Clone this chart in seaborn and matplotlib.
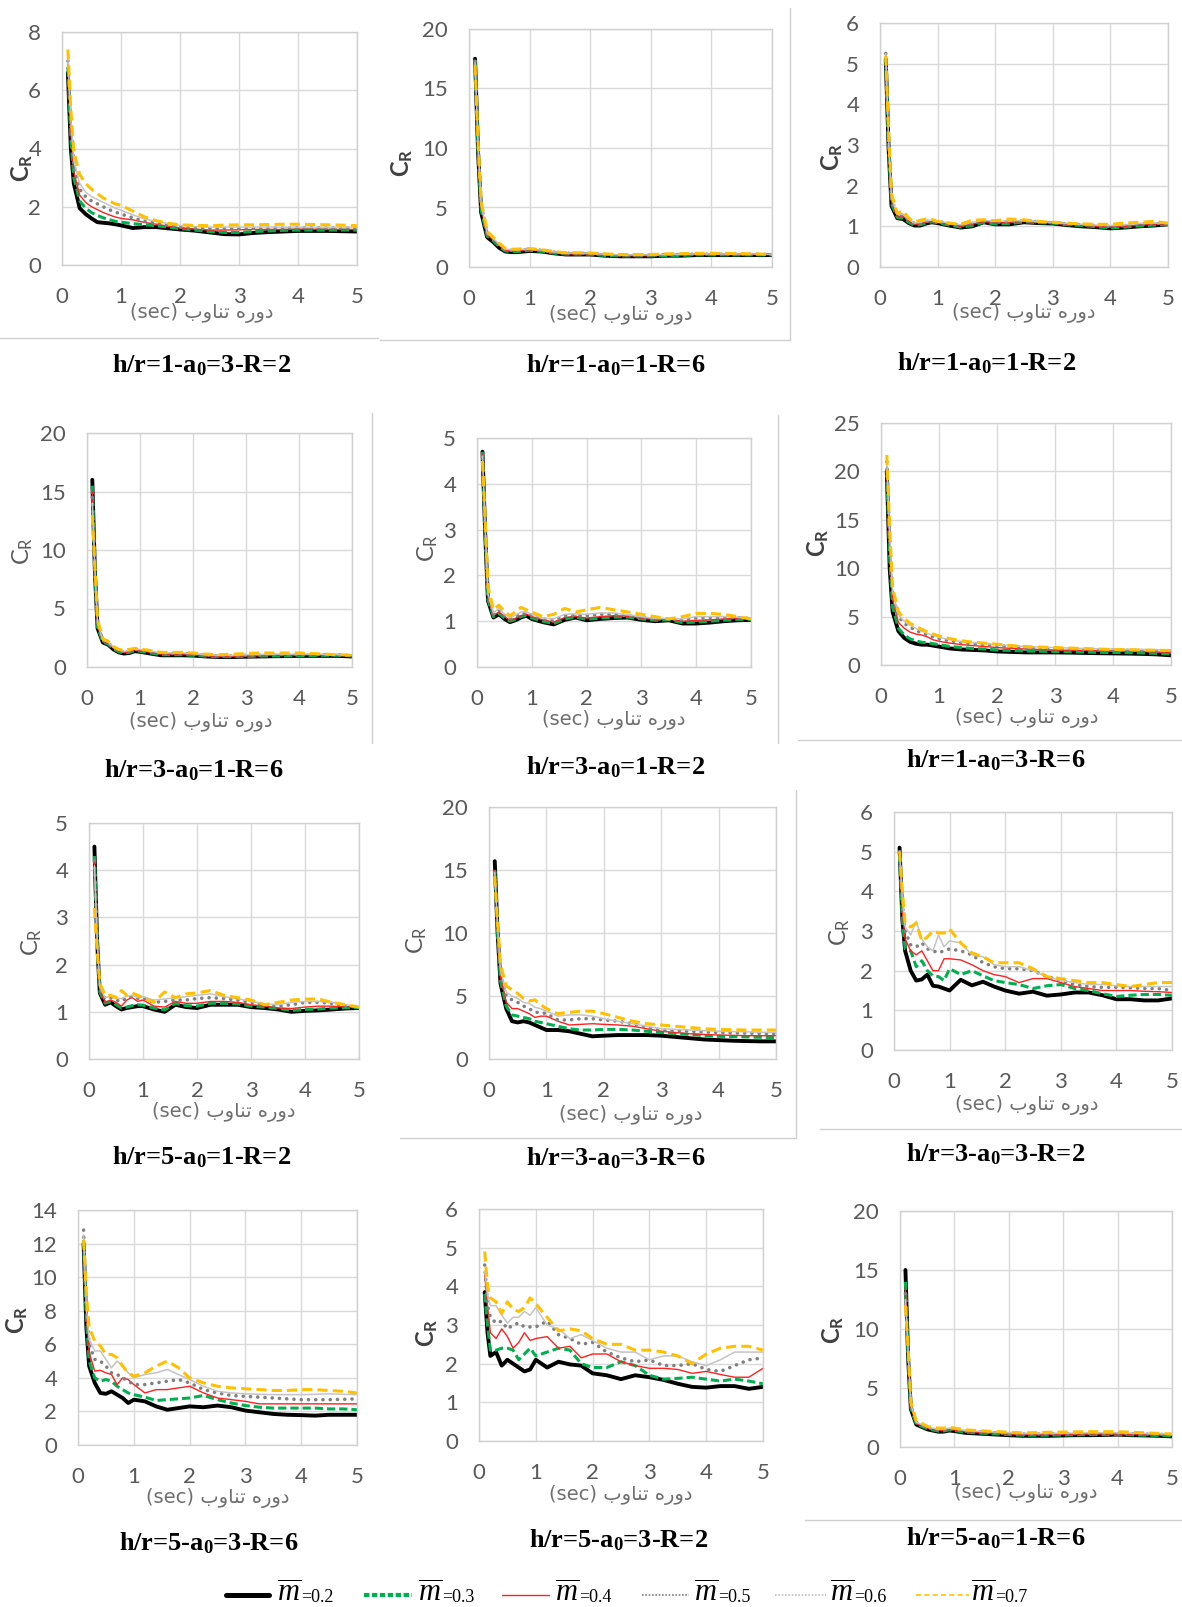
import numpy as np
import matplotlib
matplotlib.use("Agg")
import matplotlib.pyplot as plt
from matplotlib.lines import Line2D
import seaborn as sns

# ---------------- data ----------------
T = [0.1, 0.15, 0.2, 0.3, 0.4, 0.5, 0.6, 0.7, 0.8, 0.9, 1.0, 1.2, 1.4, 1.6, 1.8, 2.0,
     2.25, 2.5, 2.75, 3.0, 3.25, 3.5, 3.75, 4.0, 4.25, 4.5, 4.75, 5.0]
M_VALUES = ["0.2", "0.3", "0.4", "0.5", "0.6", "0.7"]
X_TICKS = [0, 1, 2, 3, 4, 5]

TITLES = ["h/r=1-$a_0$=3-R=2", "h/r=1-$a_0$=1-R=6", "h/r=1-$a_0$=1-R=2",
          "h/r=3-$a_0$=1-R=6", "h/r=3-$a_0$=1-R=2", "h/r=1-$a_0$=3-R=6",
          "h/r=5-$a_0$=1-R=2", "h/r=3-$a_0$=3-R=6", "h/r=3-$a_0$=3-R=2",
          "h/r=5-$a_0$=3-R=6", "h/r=5-$a_0$=3-R=2", "h/r=5-$a_0$=1-R=6"]
Y_MAX = [8, 20, 6, 20, 5, 25, 5, 20, 6, 14, 6, 20]
Y_STEP = [2, 5, 1, 5, 1, 5, 1, 5, 1, 2, 1, 5]

P1_CR = [
    [6.6, 4.0, 2.8, 1.95, 1.75, 1.6, 1.47, 1.45, 1.43, 1.4, 1.36, 1.27, 1.3, 1.3, 1.26, 1.22, 1.18, 1.12, 1.06, 1.05, 1.1, 1.13, 1.15, 1.17, 1.17, 1.17, 1.16, 1.15],
    [6.8, 4.3, 3.0, 2.2, 1.95, 1.8, 1.7, 1.62, 1.56, 1.5, 1.47, 1.42, 1.38, 1.35, 1.3, 1.25, 1.2, 1.15, 1.12, 1.12, 1.15, 1.17, 1.19, 1.2, 1.2, 1.2, 1.2, 1.2],
    [6.9, 4.6, 3.2, 2.4, 2.15, 2.0, 1.9, 1.8, 1.72, 1.65, 1.6, 1.55, 1.46, 1.4, 1.33, 1.27, 1.23, 1.2, 1.2, 1.21, 1.22, 1.22, 1.22, 1.23, 1.23, 1.22, 1.22, 1.22],
    [7.0, 4.8, 3.4, 2.6, 2.35, 2.2, 2.1, 2.0, 1.9, 1.82, 1.75, 1.62, 1.5, 1.43, 1.37, 1.3, 1.27, 1.25, 1.25, 1.26, 1.26, 1.27, 1.27, 1.28, 1.28, 1.27, 1.27, 1.27],
    [7.1, 5.0, 3.6, 2.8, 2.5, 2.35, 2.25, 2.15, 2.05, 1.95, 1.88, 1.72, 1.58, 1.5, 1.42, 1.36, 1.32, 1.3, 1.3, 1.3, 1.3, 1.3, 1.3, 1.3, 1.3, 1.3, 1.3, 1.3],
    [7.4, 5.3, 3.9, 3.1, 2.8, 2.6, 2.45, 2.3, 2.2, 2.1, 2.05, 1.85, 1.65, 1.52, 1.43, 1.38, 1.36, 1.35, 1.37, 1.38, 1.38, 1.39, 1.4, 1.4, 1.39, 1.38, 1.37, 1.35],
]
P2_CR = [
    [17.5, 9.6, 4.6, 2.5, 2.1, 1.6, 1.3, 1.25, 1.25, 1.3, 1.35, 1.3, 1.15, 1.05, 1.05, 1.05, 0.95, 0.9, 0.9, 0.9, 0.95, 0.95, 1.0, 1.0, 1.0, 1.0, 1.0, 1.0],
    [17.4, 9.8, 4.8, 2.6, 2.2, 1.7, 1.35, 1.3, 1.3, 1.35, 1.4, 1.32, 1.17, 1.08, 1.08, 1.07, 0.97, 0.92, 0.92, 0.93, 0.97, 0.98, 1.02, 1.02, 1.02, 1.02, 1.02, 1.02],
    [17.3, 10.0, 5.0, 2.7, 2.3, 1.8, 1.4, 1.35, 1.35, 1.4, 1.45, 1.35, 1.2, 1.1, 1.1, 1.1, 1.0, 0.95, 0.95, 0.95, 1.0, 1.0, 1.05, 1.05, 1.05, 1.05, 1.05, 1.02],
    [17.3, 10.2, 5.2, 2.8, 2.35, 1.85, 1.45, 1.4, 1.4, 1.45, 1.5, 1.4, 1.25, 1.15, 1.15, 1.13, 1.05, 1.0, 1.0, 1.0, 1.03, 1.05, 1.08, 1.08, 1.08, 1.08, 1.08, 1.05],
    [17.2, 10.3, 5.3, 2.85, 2.4, 1.9, 1.5, 1.45, 1.45, 1.5, 1.52, 1.42, 1.27, 1.17, 1.17, 1.15, 1.07, 1.02, 1.02, 1.02, 1.05, 1.07, 1.1, 1.1, 1.1, 1.1, 1.1, 1.07],
    [17.0, 10.5, 5.5, 3.0, 2.5, 2.0, 1.55, 1.5, 1.5, 1.55, 1.55, 1.45, 1.3, 1.2, 1.2, 1.18, 1.1, 1.05, 1.05, 1.05, 1.1, 1.12, 1.15, 1.15, 1.15, 1.12, 1.1, 1.05],
]
P3_CR = [
    [5.1, 2.9, 1.5, 1.2, 1.18, 1.08, 1.02, 1.02, 1.07, 1.1, 1.08, 1.02, 0.97, 1.0, 1.1, 1.05, 1.05, 1.1, 1.08, 1.07, 1.03, 1.0, 0.98, 0.95, 0.97, 1.0, 1.02, 1.05],
    [5.15, 2.95, 1.55, 1.22, 1.2, 1.1, 1.03, 1.04, 1.08, 1.11, 1.09, 1.03, 0.98, 1.02, 1.1, 1.06, 1.07, 1.11, 1.09, 1.08, 1.04, 1.02, 0.99, 0.96, 0.98, 1.01, 1.03, 1.05],
    [5.2, 3.0, 1.6, 1.25, 1.25, 1.13, 1.05, 1.06, 1.1, 1.12, 1.1, 1.05, 1.0, 1.05, 1.12, 1.08, 1.1, 1.12, 1.1, 1.08, 1.05, 1.03, 1.0, 0.98, 1.0, 1.03, 1.05, 1.06],
    [5.25, 3.05, 1.65, 1.28, 1.28, 1.15, 1.07, 1.08, 1.12, 1.14, 1.12, 1.07, 1.02, 1.08, 1.14, 1.1, 1.12, 1.13, 1.11, 1.09, 1.06, 1.04, 1.02, 1.0, 1.02, 1.05, 1.07, 1.07],
    [5.25, 3.1, 1.7, 1.3, 1.3, 1.17, 1.08, 1.1, 1.14, 1.15, 1.13, 1.08, 1.04, 1.1, 1.15, 1.12, 1.14, 1.14, 1.12, 1.1, 1.07, 1.05, 1.03, 1.02, 1.04, 1.07, 1.08, 1.08],
    [5.2, 3.3, 1.8, 1.32, 1.38, 1.2, 1.1, 1.15, 1.18, 1.17, 1.12, 1.08, 1.05, 1.15, 1.16, 1.14, 1.18, 1.16, 1.12, 1.1, 1.08, 1.06, 1.05, 1.05, 1.08, 1.1, 1.12, 1.08],
]
P4_CR = [
    [16.0, 8.0, 3.3, 2.1, 1.9, 1.5, 1.25, 1.15, 1.2, 1.35, 1.3, 1.15, 1.0, 1.0, 1.0, 0.98, 0.9, 0.85, 0.85, 0.88, 0.9, 0.92, 0.93, 0.95, 0.95, 0.95, 0.95, 0.9],
    [15.5, 8.0, 3.4, 2.15, 1.95, 1.55, 1.3, 1.2, 1.25, 1.4, 1.35, 1.2, 1.05, 1.05, 1.05, 1.0, 0.92, 0.88, 0.88, 0.9, 0.93, 0.95, 0.95, 0.97, 0.98, 1.0, 1.0, 0.95],
    [15.0, 8.1, 3.5, 2.2, 2.0, 1.6, 1.35, 1.25, 1.3, 1.45, 1.4, 1.25, 1.1, 1.1, 1.1, 1.05, 0.95, 0.9, 0.9, 0.95, 0.97, 1.0, 1.0, 1.02, 1.02, 1.02, 1.0, 0.97],
    [14.5, 8.2, 3.6, 2.25, 2.05, 1.65, 1.4, 1.3, 1.35, 1.5, 1.45, 1.3, 1.15, 1.15, 1.15, 1.1, 1.0, 0.95, 0.95, 1.0, 1.02, 1.05, 1.05, 1.05, 1.05, 1.05, 1.02, 1.0],
    [14.0, 8.3, 3.7, 2.3, 2.1, 1.7, 1.45, 1.35, 1.4, 1.55, 1.5, 1.35, 1.2, 1.2, 1.2, 1.15, 1.05, 1.0, 1.0, 1.05, 1.07, 1.1, 1.1, 1.1, 1.1, 1.08, 1.05, 1.02],
    [13.0, 8.5, 4.0, 2.4, 2.2, 1.75, 1.5, 1.45, 1.5, 1.6, 1.55, 1.4, 1.25, 1.25, 1.25, 1.2, 1.1, 1.05, 1.1, 1.15, 1.2, 1.2, 1.2, 1.2, 1.15, 1.1, 1.05, 1.0],
]
P5_CR = [
    [4.7, 2.9, 1.45, 1.08, 1.15, 1.05, 0.98, 1.02, 1.08, 1.12, 1.05, 0.98, 0.93, 1.03, 1.08, 1.02, 1.05, 1.07, 1.08, 1.03, 1.0, 1.02, 0.95, 0.95, 0.97, 1.0, 1.02, 1.03],
    [4.7, 2.95, 1.47, 1.1, 1.17, 1.07, 1.0, 1.04, 1.1, 1.13, 1.07, 1.0, 0.95, 1.05, 1.09, 1.04, 1.07, 1.09, 1.09, 1.05, 1.02, 1.03, 0.97, 0.98, 1.0, 1.02, 1.04, 1.04],
    [4.65, 3.0, 1.5, 1.12, 1.2, 1.1, 1.02, 1.06, 1.12, 1.15, 1.1, 1.03, 0.98, 1.08, 1.1, 1.07, 1.1, 1.12, 1.1, 1.07, 1.03, 1.05, 1.0, 1.02, 1.03, 1.05, 1.06, 1.05],
    [4.6, 3.0, 1.55, 1.15, 1.25, 1.13, 1.05, 1.1, 1.17, 1.18, 1.13, 1.05, 1.02, 1.12, 1.13, 1.12, 1.15, 1.15, 1.12, 1.08, 1.05, 1.05, 1.03, 1.07, 1.08, 1.08, 1.08, 1.06],
    [4.6, 3.05, 1.6, 1.18, 1.28, 1.15, 1.08, 1.13, 1.2, 1.2, 1.15, 1.07, 1.05, 1.15, 1.16, 1.15, 1.18, 1.18, 1.14, 1.1, 1.06, 1.06, 1.05, 1.1, 1.1, 1.1, 1.09, 1.07],
    [4.5, 3.2, 1.75, 1.25, 1.35, 1.22, 1.12, 1.2, 1.3, 1.25, 1.2, 1.1, 1.15, 1.28, 1.2, 1.25, 1.3, 1.25, 1.2, 1.15, 1.1, 1.05, 1.1, 1.17, 1.17, 1.15, 1.1, 1.05],
]
P6_CR = [
    [20.0, 10.0, 5.5, 3.5, 2.8, 2.4, 2.2, 2.1, 2.1, 2.0, 1.9, 1.7, 1.6, 1.55, 1.5, 1.4, 1.35, 1.3, 1.3, 1.3, 1.28, 1.25, 1.22, 1.2, 1.18, 1.15, 1.1, 1.0],
    [20.2, 11.0, 6.0, 3.8, 3.1, 2.7, 2.5, 2.35, 2.3, 2.2, 2.1, 1.9, 1.8, 1.7, 1.65, 1.55, 1.5, 1.45, 1.42, 1.4, 1.37, 1.35, 1.3, 1.3, 1.28, 1.25, 1.2, 1.15],
    [20.5, 12.0, 6.8, 4.4, 3.8, 3.4, 3.2, 3.1, 2.9, 2.6, 2.45, 2.25, 2.1, 2.0, 1.9, 1.8, 1.72, 1.65, 1.6, 1.55, 1.52, 1.5, 1.47, 1.45, 1.42, 1.4, 1.35, 1.3],
    [21.0, 13.0, 7.3, 5.0, 4.3, 3.9, 3.6, 3.3, 3.1, 2.9, 2.7, 2.5, 2.3, 2.2, 2.1, 2.0, 1.9, 1.8, 1.75, 1.7, 1.65, 1.6, 1.57, 1.55, 1.52, 1.5, 1.47, 1.45],
    [21.2, 13.5, 7.6, 5.2, 4.5, 4.1, 3.8, 3.5, 3.25, 3.05, 2.85, 2.6, 2.4, 2.3, 2.2, 2.1, 2.0, 1.9, 1.85, 1.8, 1.75, 1.7, 1.67, 1.65, 1.62, 1.6, 1.57, 1.55],
    [21.7, 14.0, 8.0, 5.5, 4.8, 4.3, 4.0, 3.7, 3.4, 3.2, 3.0, 2.7, 2.5, 2.35, 2.25, 2.15, 2.0, 1.9, 1.85, 1.8, 1.75, 1.7, 1.65, 1.6, 1.58, 1.55, 1.52, 1.5],
]
P7_CR = [
    [4.5, 2.5, 1.4, 1.15, 1.2, 1.12, 1.05, 1.08, 1.1, 1.12, 1.12, 1.05, 1.0, 1.15, 1.1, 1.08, 1.15, 1.15, 1.15, 1.1, 1.08, 1.05, 1.0, 1.02, 1.03, 1.05, 1.07, 1.08],
    [4.3, 2.5, 1.42, 1.18, 1.22, 1.15, 1.08, 1.1, 1.13, 1.15, 1.14, 1.08, 1.04, 1.18, 1.13, 1.12, 1.18, 1.18, 1.17, 1.12, 1.1, 1.07, 1.03, 1.05, 1.06, 1.08, 1.09, 1.09],
    [4.2, 2.55, 1.45, 1.2, 1.25, 1.2, 1.12, 1.25, 1.3, 1.22, 1.25, 1.12, 1.1, 1.22, 1.18, 1.18, 1.22, 1.22, 1.2, 1.15, 1.12, 1.08, 1.07, 1.1, 1.12, 1.12, 1.1, 1.1],
    [4.2, 2.6, 1.5, 1.28, 1.3, 1.25, 1.22, 1.3, 1.32, 1.28, 1.3, 1.2, 1.22, 1.25, 1.25, 1.28, 1.3, 1.28, 1.25, 1.2, 1.15, 1.12, 1.15, 1.2, 1.2, 1.18, 1.12, 1.1],
    [4.1, 2.6, 1.52, 1.3, 1.33, 1.28, 1.28, 1.33, 1.35, 1.3, 1.32, 1.25, 1.27, 1.3, 1.32, 1.35, 1.38, 1.32, 1.28, 1.22, 1.17, 1.15, 1.2, 1.22, 1.22, 1.2, 1.15, 1.1],
    [3.2, 2.3, 1.6, 1.35, 1.35, 1.3, 1.45, 1.35, 1.4, 1.35, 1.3, 1.2, 1.42, 1.3, 1.38, 1.4, 1.45, 1.35, 1.3, 1.25, 1.15, 1.2, 1.25, 1.27, 1.27, 1.2, 1.15, 1.1],
]
P8_CR = [
    [15.7, 10.0, 6.0, 4.0, 3.0, 2.9, 3.0, 2.9, 2.7, 2.5, 2.3, 2.3, 2.2, 2.0, 1.8, 1.85, 1.9, 1.9, 1.9, 1.85, 1.75, 1.65, 1.55, 1.5, 1.45, 1.42, 1.4, 1.4],
    [15.0, 10.0, 6.2, 4.2, 3.5, 3.4, 3.3, 3.2, 3.0, 2.9, 2.8, 2.6, 2.4, 2.3, 2.3, 2.35, 2.35, 2.3, 2.2, 2.1, 2.0, 1.95, 1.85, 1.8, 1.78, 1.75, 1.72, 1.7],
    [15.0, 10.2, 6.5, 4.5, 4.0, 4.0, 3.8, 3.6, 3.3, 3.4, 3.4, 3.0, 2.7, 2.75, 2.8, 2.75, 2.7, 2.6, 2.4, 2.2, 2.1, 2.0, 1.95, 1.9, 1.88, 1.85, 1.85, 1.85],
    [14.8, 10.4, 6.8, 5.0, 4.7, 4.5, 4.2, 4.0, 3.7, 3.7, 3.6, 3.1, 3.1, 3.2, 3.2, 3.1, 3.0, 2.8, 2.5, 2.3, 2.25, 2.2, 2.15, 2.1, 2.08, 2.05, 2.02, 2.0],
    [14.8, 10.5, 7.0, 5.3, 5.0, 4.8, 4.5, 4.4, 4.1, 4.0, 3.8, 3.4, 3.5, 3.5, 3.4, 3.2, 3.0, 2.8, 2.6, 2.4, 2.35, 2.3, 2.25, 2.2, 2.18, 2.15, 2.12, 2.1],
    [14.5, 10.8, 7.5, 5.8, 5.5, 5.2, 4.8, 4.6, 4.7, 4.3, 4.0, 3.6, 3.7, 3.8, 3.8, 3.6, 3.3, 3.0, 2.8, 2.7, 2.6, 2.5, 2.4, 2.35, 2.32, 2.3, 2.3, 2.3],
]
P9_CR = [
    [5.1, 3.3, 2.5, 2.0, 1.75, 1.78, 1.9, 1.62, 1.6, 1.55, 1.5, 1.77, 1.63, 1.72, 1.6, 1.5, 1.42, 1.47, 1.37, 1.4, 1.45, 1.45, 1.38, 1.28, 1.28, 1.25, 1.25, 1.3],
    [4.9, 3.3, 2.55, 2.5, 2.1, 2.25, 2.0, 1.87, 1.85, 1.75, 2.05, 1.9, 2.0, 1.87, 1.75, 1.7, 1.65, 1.55, 1.62, 1.65, 1.55, 1.5, 1.42, 1.35, 1.38, 1.4, 1.4, 1.38],
    [5.0, 3.5, 2.8, 2.5, 2.4, 2.5, 2.25, 2.0, 2.0, 2.3, 2.3, 2.27, 2.15, 2.0, 1.9, 1.85, 1.7, 1.8, 1.8, 1.7, 1.6, 1.55, 1.5, 1.5, 1.5, 1.48, 1.47, 1.45],
    [5.0, 3.7, 3.0, 2.65, 2.6, 2.7, 2.55, 2.5, 2.45, 2.5, 2.55, 2.5, 2.4, 2.2, 2.1, 2.05, 2.05, 2.0, 1.85, 1.75, 1.65, 1.6, 1.58, 1.58, 1.57, 1.55, 1.55, 1.5],
    [5.0, 3.8, 3.1, 2.9, 3.25, 2.8, 2.6, 2.5, 2.9, 2.6, 2.75, 2.7, 2.4, 2.35, 2.15, 2.1, 2.1, 2.0, 1.85, 1.75, 1.7, 1.65, 1.65, 1.62, 1.6, 1.6, 1.6, 1.6],
    [5.0, 4.0, 3.2, 3.1, 3.2, 2.75, 2.85, 3.0, 2.95, 2.95, 3.05, 2.7, 2.45, 2.35, 2.2, 2.2, 2.2, 2.05, 1.85, 1.8, 1.75, 1.7, 1.7, 1.65, 1.6, 1.65, 1.7, 1.7],
]
P10_CR = [
    [12.0, 7.0, 4.7, 3.7, 3.1, 3.05, 3.2, 3.0, 2.8, 2.5, 2.7, 2.6, 2.3, 2.1, 2.2, 2.3, 2.25, 2.35, 2.25, 2.05, 1.95, 1.85, 1.8, 1.78, 1.75, 1.8, 1.8, 1.8],
    [12.2, 7.5, 5.0, 4.0, 3.8, 3.9, 3.8, 3.5, 3.3, 3.1, 3.0, 2.85, 2.65, 2.7, 2.75, 2.8, 2.95, 2.7, 2.5, 2.35, 2.25, 2.2, 2.2, 2.2, 2.2, 2.15, 2.15, 2.1],
    [12.5, 7.8, 5.5, 4.4, 4.45, 4.3, 4.2, 3.6, 4.0, 3.9, 3.6, 3.1, 3.3, 3.3, 3.4, 3.5, 3.1, 2.8, 2.7, 2.6, 2.45, 2.45, 2.45, 2.45, 2.45, 2.45, 2.45, 2.45],
    [12.8, 8.0, 6.0, 5.1, 5.0, 4.7, 4.3, 4.2, 4.0, 3.8, 3.6, 3.6, 3.7, 3.8, 3.9, 3.7, 3.3, 3.1, 2.95, 2.9, 2.85, 2.8, 2.75, 2.7, 2.7, 2.7, 2.72, 2.75],
    [12.5, 8.2, 6.3, 5.6, 5.6, 5.1, 4.6, 5.0, 4.7, 4.3, 4.0, 4.2, 4.3, 4.5, 4.2, 3.9, 3.5, 3.2, 3.1, 3.05, 3.02, 3.0, 3.0, 3.0, 3.02, 3.05, 3.02, 3.0],
    [12.2, 9.0, 7.0, 6.2, 5.9, 5.4, 5.4, 5.2, 4.7, 4.3, 4.1, 4.3, 4.7, 5.0, 4.6, 4.0, 3.7, 3.5, 3.4, 3.35, 3.3, 3.25, 3.25, 3.3, 3.3, 3.25, 3.2, 3.1],
]
P11_CR = [
    [3.85, 2.8, 2.2, 2.3, 1.95, 2.1, 2.0, 1.9, 1.8, 1.85, 2.1, 1.9, 2.05, 1.98, 1.95, 1.75, 1.7, 1.6, 1.7, 1.65, 1.58, 1.48, 1.4, 1.38, 1.42, 1.42, 1.35, 1.4],
    [3.8, 3.0, 2.35, 2.35, 2.4, 2.4, 2.35, 2.1, 2.25, 2.4, 2.2, 2.3, 2.4, 2.35, 2.0, 1.9, 1.9, 2.05, 1.95, 1.7, 1.6, 1.62, 1.65, 1.6, 1.55, 1.6, 1.55, 1.48],
    [4.3, 3.5, 2.8, 2.65, 2.9, 2.7, 2.4, 2.55, 2.8, 2.6, 2.65, 2.7, 2.4, 2.45, 2.15, 2.25, 2.25, 2.05, 1.95, 1.88, 1.88, 1.85, 1.75, 1.8, 1.72, 1.65, 1.65, 1.88],
    [4.55, 3.5, 3.2, 3.05, 3.1, 2.9, 3.0, 3.05, 2.95, 2.95, 2.95, 3.1, 2.75, 2.65, 2.5, 2.55, 2.3, 2.15, 2.05, 2.1, 1.95, 1.95, 2.0, 1.85, 1.8, 1.95, 2.1, 2.15],
    [4.4, 3.8, 3.5, 3.5, 3.25, 3.05, 3.2, 3.2, 3.35, 3.25, 3.45, 3.0, 2.9, 2.65, 2.75, 2.6, 2.4, 2.3, 2.3, 2.1, 2.2, 2.2, 2.05, 1.95, 2.1, 2.3, 2.3, 2.3],
    [4.9, 4.0, 3.7, 3.6, 3.3, 3.6, 3.4, 3.35, 3.45, 3.7, 3.55, 3.2, 2.85, 2.9, 2.85, 2.65, 2.5, 2.5, 2.35, 2.35, 2.3, 2.2, 2.0, 2.25, 2.4, 2.45, 2.45, 2.35],
]
P12_CR = [
    [15.0, 7.5, 3.2, 1.9, 1.7, 1.5, 1.4, 1.3, 1.3, 1.4, 1.35, 1.2, 1.15, 1.1, 1.05, 1.0, 0.95, 0.95, 0.95, 0.98, 1.0, 1.0, 1.02, 1.05, 1.0, 0.98, 0.95, 0.9],
    [14.0, 7.6, 3.3, 1.95, 1.75, 1.55, 1.45, 1.35, 1.35, 1.45, 1.4, 1.25, 1.2, 1.15, 1.1, 1.05, 1.0, 1.0, 1.0, 1.02, 1.03, 1.05, 1.05, 1.07, 1.03, 1.0, 0.98, 0.95],
    [13.5, 7.8, 3.4, 2.0, 1.8, 1.6, 1.5, 1.4, 1.4, 1.5, 1.45, 1.3, 1.25, 1.2, 1.15, 1.1, 1.05, 1.05, 1.05, 1.07, 1.08, 1.1, 1.1, 1.1, 1.07, 1.05, 1.02, 1.0],
    [13.0, 8.0, 3.5, 2.05, 1.85, 1.65, 1.55, 1.45, 1.45, 1.55, 1.5, 1.35, 1.3, 1.25, 1.2, 1.15, 1.1, 1.1, 1.1, 1.12, 1.13, 1.15, 1.15, 1.15, 1.12, 1.1, 1.07, 1.05],
    [12.5, 8.1, 3.6, 2.1, 1.9, 1.7, 1.6, 1.5, 1.5, 1.6, 1.55, 1.4, 1.35, 1.3, 1.25, 1.2, 1.15, 1.15, 1.15, 1.17, 1.18, 1.2, 1.2, 1.2, 1.17, 1.15, 1.12, 1.1],
    [12.0, 8.3, 3.8, 2.2, 2.0, 1.75, 1.65, 1.6, 1.6, 1.7, 1.6, 1.45, 1.4, 1.35, 1.3, 1.25, 1.2, 1.22, 1.25, 1.27, 1.28, 1.3, 1.3, 1.3, 1.25, 1.2, 1.15, 1.1],
]
PANEL_DATA = [P1_CR, P2_CR, P3_CR, P4_CR, P5_CR, P6_CR,
              P7_CR, P8_CR, P9_CR, P10_CR, P11_CR, P12_CR]

# ---------------- layout (pixels) ----------------
W, H = 1182, 1607
BOXES = [(62, 32, 357, 265), (469, 29, 772, 267), (880, 23, 1168, 267),
         (87, 433, 352, 667), (477, 438, 751, 667), (881, 423, 1171, 665),
         (89, 823, 359, 1059), (489, 807, 776, 1059), (894, 812, 1172, 1050),
         (78, 1210, 357, 1445), (479, 1209, 763, 1441), (900, 1211, 1172, 1447)]
YLAB = [(22, 168, True), (402, 163, True), (832, 157, True),
        (23, 551, False), (428, 548, False), (818, 543, True),
        (32, 942, False), (417, 940, False), (840, 932, False),
        (17, 1320, True), (427, 1333, True), (833, 1330, True)]
XLAB = [(202, 313), (621, 315), (1024, 313), (201, 722), (614, 720), (1027, 718),
        (224, 1112), (631, 1115), (1027, 1105), (218, 1498), (621, 1495), (1026, 1493)]
TPOS = [(202, 365), (616, 365), (987, 363), (194, 770), (616, 767), (996, 760),
        (202, 1157), (616, 1158), (996, 1154), (209, 1543), (619, 1540), (996, 1538)]

STYLES = [
    dict(color="black", linewidth=2.8, linestyle="-"),
    dict(color="#00b050", linewidth=2.2, linestyle=(0, (2.7, 1.3))),
    dict(color="#ff2020", linewidth=1.0, linestyle="-"),
    dict(color="#808080", linewidth=2.6, linestyle=(0, (0.01, 2.0)), dash_capstyle="round"),
    dict(color="#c4c4c4", linewidth=1.1, linestyle="-"),
    dict(color="#ffc000", linewidth=2.2, linestyle=(0, (3.3, 1.7))),
]

# Persian axis title "دوره تناوب (sec)" written in shaped (presentation) forms, visual order
XLABEL = "(sec) \uFE8F\uFEED\uFE8E\uFEE8\uFE97 \uFEE9\uFEAD\uFEED\uFEA9"

sns.set_theme(style="white")
plt.rcParams["font.family"] = ["Lato", "DejaVu Sans"]
plt.rcParams["mathtext.fontset"] = "custom"
plt.rcParams["mathtext.rm"] = "Liberation Serif"
plt.rcParams["mathtext.it"] = "Liberation Serif:italic"
plt.rcParams["mathtext.bf"] = "Liberation Serif:bold"
plt.rcParams["mathtext.default"] = "regular"

fig = plt.figure(figsize=(W / 100, H / 100), dpi=100)
fig.patch.set_facecolor("white")


def fx(x):
    return x / W


def fy(y):
    return 1 - y / H


for i in range(12):
    l, t, r, b = BOXES[i]
    ax = fig.add_axes([fx(l), fy(b), (r - l) / W, (b - t) / H])
    ax.set_facecolor("white")
    for k, series in enumerate(PANEL_DATA[i]):
        sns.lineplot(x=T, y=series, ax=ax, sort=False, estimator=None,
                     legend=False, **STYLES[k])
    ax.set_xlim(0, 5)
    ax.set_ylim(0, Y_MAX[i])
    ax.set_xticks(X_TICKS)
    ax.set_yticks(np.arange(0, Y_MAX[i] + Y_STEP[i] / 2, Y_STEP[i]))
    ax.grid(True, color="#d9d9d9", linewidth=1.0)
    ax.set_axisbelow(True)
    for sp in ax.spines.values():
        sp.set_color("#d0d0d0")
        sp.set_linewidth(1.0)
    ax.tick_params(axis="both", length=0, labelsize=16, labelcolor="#595959")
    ax.tick_params(axis="x", pad=16)
    ax.tick_params(axis="y", pad=15)
    ax.set_xlabel("")
    ax.set_ylabel("")

    yx, yy, bold = YLAB[i]
    fig.text(fx(yx), fy(yy), "$C_R$", rotation=90, ha="center", va="center",
             fontsize=17, fontweight="bold" if bold else "normal",
             family="Lato", color="#404040" if bold else "#595959")
    xx, xy = XLAB[i]
    fig.text(fx(xx), fy(xy), XLABEL, ha="center", va="center", fontsize=14,
             family="DejaVu Sans", color="#6f6f6f")
    tx, ty = TPOS[i]
    fig.text(fx(tx), fy(ty), TITLES[i], ha="center", va="center", fontsize=19,
             family="Liberation Serif", fontweight="bold", color="black")

# chart-area border remnants
BORDERS = [((0, 338), (378, 338)), ((380, 340), (790, 340)), ((790, 8), (790, 340)),
           ((372, 413), (372, 743)), ((778, 415), (778, 743)), ((798, 740), (1182, 740)),
           ((796, 790), (796, 1138)), ((400, 1138), (796, 1138)),
           ((820, 1129), (1182, 1129)), ((805, 1520), (1182, 1520))]
for (x0, y0), (x1, y1) in BORDERS:
    fig.add_artist(Line2D([fx(x0), fx(x1)], [fy(y0), fy(y1)], color="#cfcfcf",
                          linewidth=1.0, transform=fig.transFigure))

# legend
LEG_STYLES = [
    dict(color="black", linewidth=3.6, linestyle="-"),
    dict(color="#00b050", linewidth=3.0, linestyle=(0, (1.3, 0.6))),
    dict(color="#ff2020", linewidth=1.0, linestyle="-"),
    dict(color="#808080", linewidth=1.2, linestyle=(0, (1, 1))),
    dict(color="#bfbfbf", linewidth=1.2, linestyle=(0, (1, 1))),
    dict(color="#ffc000", linewidth=1.2, linestyle=(0, (3, 2))),
]
LEG_HANDLE_X = [(226, 269), (364, 412), (502, 549), (642, 689), (775, 826), (916, 969)]
LEG_TEXT_X = [277, 418, 555, 694, 830, 971]
leg_y = 1595
for k in range(6):
    h0, h1 = LEG_HANDLE_X[k]
    fig.add_artist(Line2D([fx(h0), fx(h1)], [fy(leg_y), fy(leg_y)],
                          transform=fig.transFigure, **LEG_STYLES[k]))
    fig.text(fx(LEG_TEXT_X[k]), fy(1602), r"$\overline{\mathit{m}}$", fontsize=22,
             family="Liberation Serif", ha="left", va="baseline", color="black")
    fig.text(fx(LEG_TEXT_X[k] + 24), fy(1602), "=" + M_VALUES[k], fontsize=13,
             family="Liberation Serif", ha="left", va="baseline", color="black")

fig.savefig("out.png", dpi=100, facecolor="white")
